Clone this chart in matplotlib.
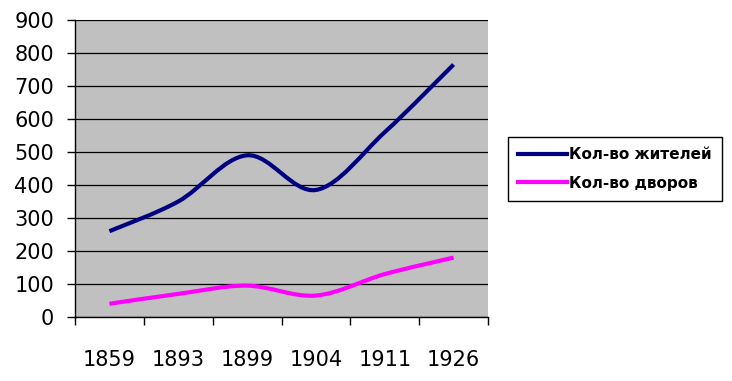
import numpy as np
import matplotlib.pyplot as plt
from matplotlib.path import Path
from matplotlib.patches import PathPatch
from matplotlib.lines import Line2D

years = ["1859", "1893", "1899", "1904", "1911", "1926"]
residents = [260, 350, 490, 385, 560, 765]
yards = [40, 70, 95, 65, 130, 180]

Series = [("Кол-во жителей", residents, "#000080"),
          ("Кол-во дворов", yards, "#FF00FF")]


def smooth_path(xs, ys):
    # Bezier segments the way Excel draws "smoothed line"
    pts = np.column_stack([xs, ys]).astype(float)
    n = len(pts)
    verts = [pts[0]]
    codes = [Path.MOVETO]
    for i in range(n - 1):
        p0 = pts[i - 1] if i > 0 else pts[i]
        p1 = pts[i]
        p2 = pts[i + 1]
        p3 = pts[i + 2] if i + 2 < n else pts[i + 1]
        c1 = p1 + (p2 - p0) / 6.0
        c2 = p2 - (p3 - p1) / 6.0
        verts += [c1, c2, p2]
        codes += [Path.CURVE4] * 3
    return Path(verts, codes)


fig = plt.figure(figsize=(7.32, 3.81), dpi=100)
ax = fig.add_axes([75 / 732, 1 - 317 / 381, 413 / 732, 297 / 381])
ax.set_facecolor("#C0C0C0")

x = np.arange(len(years))
handles = []
for name, vals, c in Series:
    patch = PathPatch(smooth_path(x, vals), fill=False, edgecolor=c, lw=3,
                      capstyle="butt", joinstyle="round", zorder=3)
    ax.add_patch(patch)
    handles.append(Line2D([], [], color=c, lw=3, label=name))

ax.set_xlim(-0.5, len(years) - 0.5)
ax.set_ylim(0, 900)
ax.set_yticks(np.arange(0, 901, 100))
ax.yaxis.grid(True, color="black", lw=0.9)
ax.set_axisbelow(True)

ax.set_xticks(np.arange(-0.5, len(years), 1.0))
ax.set_xticklabels([])
ax.set_xticks(x, minor=True)
ax.set_xticklabels(years, minor=True)
ax.tick_params(axis="x", which="major", length=6, width=1, direction="out")
ax.tick_params(axis="x", which="minor", length=0, pad=24, labelsize=15)
ax.tick_params(axis="y", length=6, width=1, direction="out", pad=9, labelsize=15)

for s in ["top", "right"]:
    ax.spines[s].set_visible(False)
for s in ["left", "bottom"]:
    ax.spines[s].set_color("black")
    ax.spines[s].set_linewidth(1)

leg = fig.legend(handles=handles, loc="upper left",
                 bbox_to_anchor=(508 / 732, 1 - 137 / 381),
                 borderaxespad=0,
                 prop={"weight": "bold", "size": 11},
                 frameon=True, fancybox=False, framealpha=1,
                 edgecolor="black", handlelength=3.2, handletextpad=0.15,
                 borderpad=0.65, labelspacing=0.9)
leg.get_frame().set_linewidth(1)

fig.savefig("out.png", dpi=100)
